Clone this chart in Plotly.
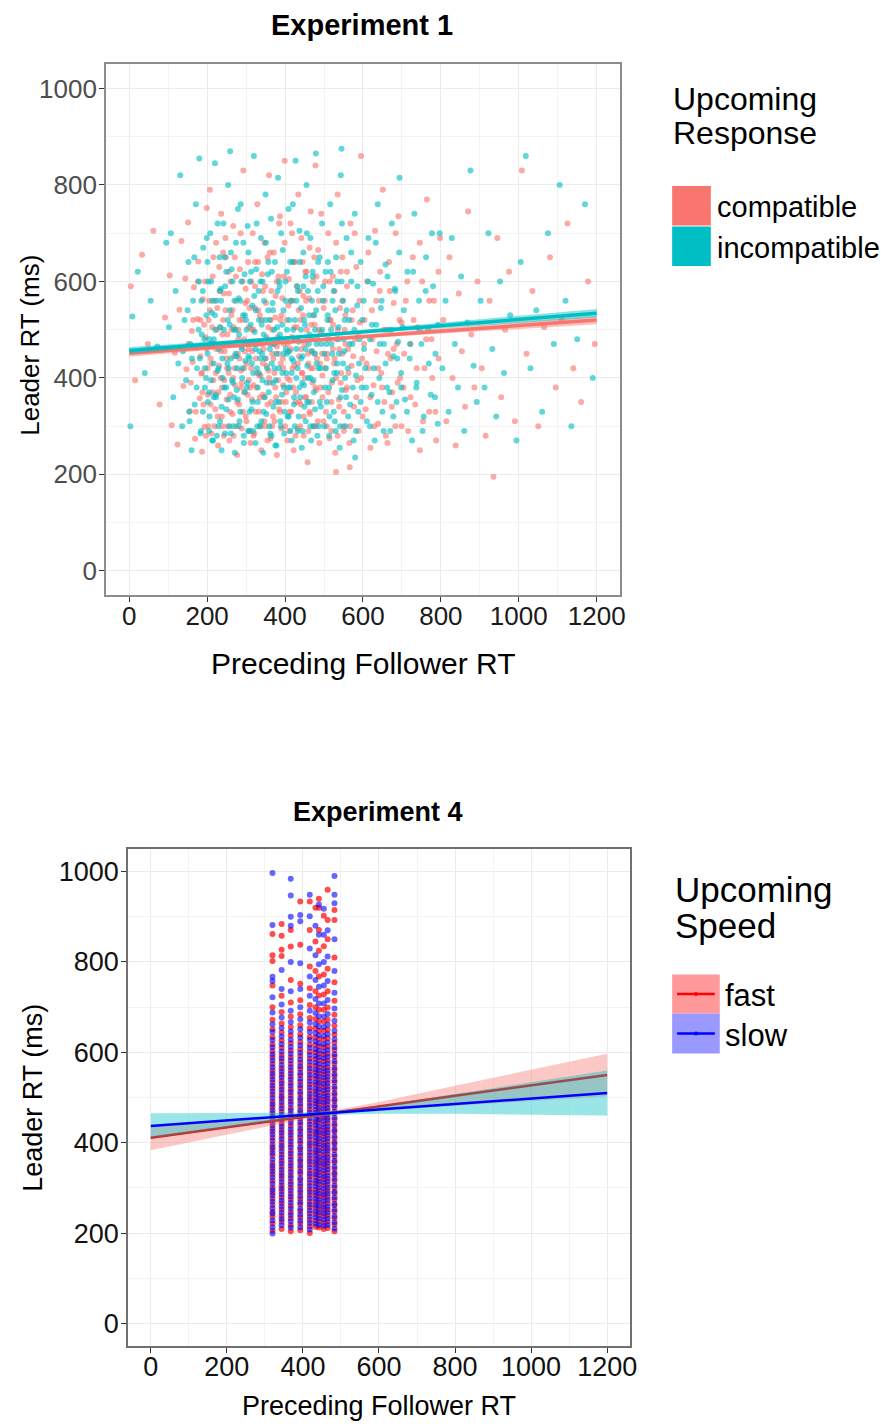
import plotly.graph_objects as go

# ---------------- Experiment 1 data ----------------
comp_pts = [
    (4,590),(15,395),(33,655),(48,470),(62,705),(78,345),(92,525),
    (104,612),(109,302),(117,452),(124,262),(129,541),(134,684),(139,383),(147,418),(151,722),(156,331),(161,497),(166,588),(169,274),(173,462),(177,641),(181,358),(185,409),(189,563),(193,298),(196,484),(199,752),(187,247),(175,522),(163,433),(144,606),
    (202,365),(204,520),(207,790),(209,440),(211,285),(214,610),(216,395),(219,470),(221,335),(223,680),(226,545),(228,260),(231,425),(233,505),(236,740),(238,380),(240,300),(243,575),(245,455),(248,650),(250,355),(252,490),(255,410),(257,270),(260,600),(262,530),(265,325),(267,715),(270,445),(272,385),(275,560),(277,240),(280,480),(282,345),(284,625),(287,415),(289,295),(291,520),(293,830),(295,370),(297,455),(299,585),(268,505),(241,660),(213,505),
    (301,310),(303,470),(305,640),(307,395),(309,545),(311,265),(313,420),(315,355),(317,700),(319,500),(321,285),(323,590),(325,440),(327,380),(329,760),(331,475),(333,330),(335,530),(337,405),(339,250),(341,615),(343,365),(345,460),(347,680),(349,300),(351,555),(353,425),(355,345),(357,505),(359,820),(361,390),(363,275),(365,580),(367,450),(369,320),(371,660),(373,410),(375,525),(377,360),(379,240),(381,485),(383,610),(385,335),(387,735),(389,430),(391,295),(393,565),(395,385),(397,470),(399,850),
    (402,350),(404,520),(406,270),(408,455),(410,605),(412,395),(414,720),(416,330),(418,485),(420,560),(422,250),(424,425),(426,640),(428,370),(430,505),(432,295),(434,780),(436,445),(438,580),(440,345),(442,690),(444,410),(446,530),(448,280),(450,470),(452,620),(454,360),(456,500),(458,225),(460,430),(462,565),(464,325),(466,745),(468,455),(470,390),(472,600),(474,300),(476,510),(478,840),(480,375),(482,440),(485,665),(488,265),(492,495),(496,405),
    (502,560),(505,330),(508,450),(511,700),(514,275),(517,520),(520,390),(523,610),(526,430),(529,245),(532,480),(535,780),(538,355),(541,545),(544,410),(547,650),(550,300),(553,500),(556,375),(559,590),(562,460),(565,265),(568,720),(571,425),(574,540),(577,340),(580,480),(583,630),(586,395),(589,290),(592,515),(595,860),(598,440),(566,215),(531,205),
    (603,470),(607,335),(611,600),(615,420),(619,255),(623,540),(627,385),(631,705),(635,455),(639,305),(643,580),(647,410),(651,790),(655,350),(659,500),(663,265),(667,640),(671,440),(675,370),(679,555),(683,300),(687,470),(691,735),(695,400),(699,515),
    (704,380),(710,560),(716,290),(722,470),(728,650),(734,345),(740,505),(746,250),(752,600),(758,420),(764,770),(770,330),(776,480),(782,560),(788,270),(794,440),(798,690),
    (806,520),(814,310),(822,650),(830,400),(838,260),(846,575),(854,455),(862,340),(870,745),(878,490),(886,380),(894,600),
    (905,420),(915,280),(925,560),(935,195),(945,690),(955,360),(965,500),(975,620),(990,310),
    (1008,830),(1020,450),(1035,580),(1050,300),(1065,505),(1080,650),(1095,380),
    (1110,520),(1125,720),(1140,420),(1160,350),(1178,600),(1195,470),
    # denser core
    (152,470),(158,390),(164,520),(171,330),(176,600),(183,445),(188,370),(192,510),(197,280),(201,420),(205,560),(209,345),(212,470),(216,650),(219,300),(222,410),(225,500),(229,370),(232,580),(235,455),(238,320),(241,520),(244,395),(247,690),(250,440),(253,300),(256,575),(259,365),(262,470),(265,540),(268,280),(271,420),(274,610),(277,350),(280,500),(283,440),(286,700),(289,390),(292,330),(295,480),(298,555),(301,430),(304,365),(307,505),(310,290),(313,600),(316,455),(319,385),(322,545),(325,330),(328,470),(331,640),(334,405),(337,300),(340,520),(343,430),(346,360),(349,590),(352,485),(355,270),(358,415),(361,660),(364,350),(367,500),(370,440),(373,310),(376,570),(379,465),(382,395),(385,720),(388,520),(391,350),(394,440),(397,610),(400,300),(403,480),(406,400),(409,550),(412,330),(415,460),(418,700),(421,380),(424,505),(427,280),(430,590),(433,430),(436,350),(439,520),(442,460),(445,640),(448,320),(451,400),(454,560),(457,480),(460,290),(463,670),(466,420),(469,350),(472,530),(475,450),(478,380),(481,610),(484,310),(487,500),(490,430),(493,740),(496,360),(499,545),(503,420),(507,300),(511,480),(515,600),(519,350),(523,510),(527,440),(531,680),(535,280),(539,460),(543,390),(547,560),(551,330),(555,470),(559,620),(563,410),(567,300),(571,520),(575,445),(579,700),(583,360),(587,490),(591,560),(595,400),(599,320),(604,520),(609,430),(614,660),(619,360),(624,480),(629,300),(634,560),(639,420),(644,620),(649,380),(654,500),(659,280),(664,450),(669,580),(674,340),(679,460),(684,700),(689,390),(694,520),(699,300),(706,450),(714,600),(722,360),(730,520),(738,420),(746,680),(754,310),(762,480),(770,560),(778,400),(786,330),(794,620),
    (183,520),(187,410),(191,345),(195,600),(199,460),(203,300),(207,540),(211,430),(215,370),(219,560),(223,460),(227,320),(231,630),(235,400),(239,490),(243,280),(247,540),(251,420),(255,620),(259,330),(263,500),(267,400),(271,650),(275,300),(279,450),(283,520),(287,380),(291,600),(295,420),(299,320),(303,560),(307,460),(311,380),(315,500),(319,280),(323,640),(327,410),(331,540),(335,360),(339,470),(343,580),(347,310),(351,440),(355,650),(359,400),(363,520),(367,300),(371,470),(375,380),(379,600),(383,450),(387,330),(391,530),(395,420),(399,680),(403,370),(407,470),(411,290),(415,560),(419,420),(423,640),(427,350),(431,480),(435,540),(439,300),(443,410),(447,570),(451,360),(455,620),(459,450),(463,330),(467,510),(471,420),(475,650),(479,300),(483,480),(487,560),(491,380),(495,450),(499,310),(503,600),(507,440),(511,370),(515,520),(519,290),(523,460),(527,580),(531,400),(535,500),(539,340),(543,620),(547,450),(551,290),(555,530),(559,380),
]
incomp_pts = [
    (3,300),(8,527),(22,620),(40,410),(55,560),(72,465),(95,680),
    (102,505),(107,700),(113,360),(119,580),(126,430),(131,820),(136,300),(142,520),(146,395),(152,640),(157,470),(160,250),(164,560),(168,345),(171,760),(174,420),(179,600),(183,285),(186,490),(190,670),(194,380),(198,530),(180,855),(154,330),(138,455),
    (201,450),(203,600),(206,320),(208,700),(210,395),(212,535),(215,270),(217,480),(220,845),(222,365),(224,560),(227,415),(229,300),(232,650),(234,505),(237,250),(239,440),(242,720),(244,380),(246,590),(249,335),(251,470),(254,800),(256,420),(258,540),(261,285),(263,625),(266,390),(269,500),(271,245),(274,680),(276,445),(279,355),(281,565),(283,310),(286,760),(288,465),(290,400),(292,530),(294,265),(296,615),(298,435),(259,870),(235,585),(205,370),
    (300,520),(302,380),(304,715),(306,445),(308,290),(310,600),(312,470),(314,335),(316,550),(318,410),(320,860),(322,495),(324,265),(326,625),(328,420),(330,350),(332,580),(334,455),(336,300),(338,690),(340,510),(342,395),(344,245),(346,560),(348,440),(350,780),(352,325),(354,480),(356,615),(358,370),(360,520),(362,285),(364,730),(366,430),(368,555),(370,340),(372,470),(374,640),(376,395),(378,260),(380,505),(382,815),(384,420),(386,590),(388,310),(390,480),(392,365),(394,665),(396,450),(398,285),
    (401,600),(403,410),(405,500),(407,320),(409,750),(411,455),(413,380),(415,560),(417,270),(419,640),(421,435),(423,345),(425,520),(427,850),(429,400),(431,590),(433,290),(435,475),(437,705),(439,360),(441,545),(443,255),(445,445),(447,660),(449,385),(451,510),(453,310),(455,800),(457,425),(459,580),(461,350),(463,490),(465,690),(467,270),(469,455),(471,610),(473,395),(475,530),(477,335),(479,865),(481,470),(484,580),(487,300),(491,420),(495,720),
    (501,450),(504,620),(507,350),(510,530),(513,280),(516,760),(519,470),(522,395),(525,580),(528,310),(531,650),(534,430),(537,505),(540,255),(543,820),(546,375),(549,560),(552,455),(555,300),(558,690),(561,420),(564,520),(567,345),(570,600),(573,470),(576,270),(579,740),(582,405),(585,550),(588,330),(591,480),(594,640),(597,380),(545,875),(580,235),
    (602,560),(606,420),(610,310),(614,690),(618,480),(622,365),(626,595),(630,270),(634,510),(638,760),(642,400),(646,545),(650,330),(654,470),(658,635),(662,380),(666,500),(670,290),(674,720),(678,445),(682,585),(686,350),(690,475),(694,815),(698,410),
    (702,505),(708,355),(714,620),(720,440),(726,270),(732,740),(738,390),(744,560),(750,470),(756,320),(762,650),(768,500),(774,365),(780,590),(786,450),(792,305),(797,700),
    (804,420),(812,560),(820,330),(828,690),(836,470),(844,380),(852,610),(860,290),(868,515),(876,830),(884,425),(892,350),
    (902,560),(912,380),(922,700),(932,460),(942,320),(952,600),(962,410),(978,530),(994,270),
    (1005,640),(1018,860),(1030,420),(1045,540),(1060,330),(1075,700),(1090,470),
    (1105,800),(1120,560),(1135,300),(1150,480),(1170,760),(1190,400),
    # denser core
    (150,540),(155,310),(161,440),(167,650),(173,380),(178,500),(184,290),(189,580),(194,420),(199,690),(202,350),(206,480),(210,600),(213,270),(217,430),(220,530),(223,360),(227,720),(230,460),(233,310),(236,560),(240,400),(243,500),(246,285),(249,620),(252,430),(255,355),(258,510),(261,660),(264,395),(267,300),(270,560),(273,450),(276,375),(279,750),(282,490),(285,330),(288,600),(291,420),(294,280),(297,530),(300,470),(303,390),(306,660),(309,330),(312,510),(315,430),(318,290),(321,570),(324,460),(327,720),(330,380),(333,520),(336,440),(339,310),(342,600),(345,490),(348,360),(351,680),(354,420),(357,540),(360,300),(363,470),(366,620),(369,390),(372,500),(375,260),(378,450),(381,580),(384,350),(387,490),(390,700),(393,410),(396,540),(399,330),(402,460),(405,620),(408,380),(411,520),(414,290),(417,440),(420,760),(423,360),(426,480),(429,560),(432,420),(435,320),(438,640),(441,500),(444,390),(447,590),(450,340),(453,460),(456,700),(459,400),(462,530),(465,300),(468,480),(471,620),(474,370),(477,450),(480,540),(483,280),(486,420),(489,650),(492,340),(495,500),(498,590),(502,380),(506,470),(510,640),(514,320),(518,500),(522,560),(526,410),(530,290),(534,600),(538,450),(542,360),(546,720),(550,480),(554,400),(558,540),(562,320),(566,470),(570,660),(574,380),(578,500),(582,290),(586,590),(590,430),(594,350),(598,520),(603,460),(608,380),(613,600),(618,300),(623,510),(628,420),(633,680),(638,350),(643,470),(648,560),(653,290),(658,430),(663,610),(668,370),(673,500),(678,320),(683,580),(688,440),(693,660),(698,380),(705,540),(713,330),(721,470),(729,620),(737,380),(745,500),(753,290),(761,580),(769,430),(777,700),(785,360),(793,510),
    (181,440),(185,560),(189,330),(193,480),(197,400),(201,640),(205,290),(209,470),(213,560),(217,360),(221,500),(225,280),(229,420),(233,580),(237,340),(241,470),(245,650),(249,380),(253,520),(257,300),(261,440),(265,600),(269,360),(273,500),(277,420),(281,300),(285,560),(289,460),(293,680),(297,370),(301,500),(305,290),(309,440),(313,620),(317,350),(321,470),(325,540),(329,300),(333,410),(337,600),(341,450),(345,330),(349,520),(353,390),(357,640),(361,460),(365,280),(369,540),(373,420),(377,350),(381,480),(385,600),(389,300),(393,510),(397,380),(401,560),(405,450),(409,320),(413,640),(417,410),(421,500),(425,300),(429,460),(433,580),(437,380),(441,440),(445,290),(449,520),(453,610),(457,350),(461,470),(465,400),(469,560),(473,300),(477,500),(481,430),(485,640),(489,350),(493,470),(497,560),(501,300),(505,420),(509,520),(513,380),(517,620),(521,450),(525,330),(529,540),(533,410),(537,480),(541,300),(545,600),(549,430),(553,520),(557,360),
]
comp_x = [p[0] for p in comp_pts]
comp_y = [p[1] for p in comp_pts]
incomp_x = [p[0] for p in incomp_pts]
incomp_y = [p[1] for p in incomp_pts]

fit1_x = [0, 300, 600, 900, 1200]
comp_fit = [451, 468, 486, 503, 520]
comp_lo = [444, 464, 482, 497, 511]
comp_hi = [458, 472, 490, 509, 529]
incomp_fit = [457, 476, 496, 515, 534]
incomp_lo = [450, 472, 492, 509, 525]
incomp_hi = [464, 480, 500, 521, 543]

# ---------------- Experiment 4 data ----------------
strip_x = [320, 344, 368, 393, 418, 433, 442, 455, 465, 483]
fast_strips = [
    [205,221,236,247,262,276,289,301,316,330,343,355,371,384,396,411,425,438,450,465,479,491,506,520,533,547,560,574,589,603,618,634,651,672,700,748,802,815,862],
    [209,225,238,252,266,279,293,306,320,333,347,360,374,388,401,415,428,442,456,469,483,497,510,524,537,551,565,580,594,610,626,644,664,689,725,813,827,858,884],
    [204,218,233,246,260,274,287,301,314,328,342,355,369,382,396,410,423,437,450,464,477,491,505,518,532,546,560,574,589,604,620,637,656,679,710,760,834,871],
    [206,221,235,249,263,276,290,303,317,331,344,358,371,385,399,412,426,439,453,467,480,494,507,521,535,549,563,577,592,607,623,640,660,684,715,752,838,934],
    [200,215,229,243,257,270,284,297,311,325,338,352,365,379,393,406,420,433,447,461,474,488,501,515,529,543,557,571,586,601,617,634,653,676,705,742,790,871,934],
    [214,228,242,256,269,283,296,310,324,337,351,364,378,392,405,419,432,446,460,473,487,500,514,528,542,556,570,585,600,616,633,652,674,700,735,780,845,920],
    [212,226,240,253,267,281,294,308,321,335,349,362,376,389,403,417,430,444,457,471,485,498,512,526,539,553,567,582,597,613,630,648,669,694,726,768,825,871,920,940],
    [209,223,237,251,264,278,291,305,319,332,346,359,373,387,400,414,427,441,455,468,482,495,509,523,537,551,565,580,595,611,628,647,668,694,728,772,835,902],
    [211,225,239,252,266,280,293,307,320,334,348,361,375,388,402,416,429,443,456,470,484,497,511,525,539,553,567,582,597,613,631,650,672,699,735,785,850,893,960],
    [204,219,233,247,261,274,288,301,315,329,342,356,369,383,397,410,424,437,451,465,478,492,505,519,533,547,561,575,590,605,621,639,659,683,714,755,810,893,915],
]
slow_strips = [
    [199,213,228,243,255,269,283,295,309,323,336,349,363,377,390,404,418,431,444,458,472,485,499,513,526,540,553,567,582,596,611,627,645,662,688,722,758,767,882,997],
    [217,231,245,259,272,286,299,313,327,340,354,367,381,394,408,422,435,449,462,476,490,503,517,531,545,558,572,587,602,618,635,654,677,706,740,782],
    [212,226,240,254,267,281,294,308,322,335,349,362,376,390,403,417,430,444,458,471,485,498,512,526,540,553,567,582,597,612,628,646,667,692,735,800,880,900,947,984],
    [213,227,241,254,268,282,295,309,322,336,350,363,377,390,404,418,431,445,458,472,486,499,513,527,541,555,569,584,599,615,632,651,673,700,740,797,890,904],
    [208,222,236,250,263,277,291,304,318,331,345,359,372,386,399,413,427,440,454,467,481,495,508,522,536,550,564,579,594,610,627,645,666,692,725,768,830,901,949],
    [221,235,248,262,276,289,303,316,330,344,357,371,384,398,412,425,439,452,466,480,493,507,520,534,548,562,577,592,607,624,642,662,687,718,760,815,880],
    [218,232,246,260,273,287,300,314,328,341,355,368,382,396,409,423,436,450,464,477,491,504,518,532,546,560,574,589,604,620,638,657,680,708,745,795,860,927],
    [216,230,244,257,271,285,298,312,325,339,353,366,380,393,407,421,434,448,461,475,489,502,516,530,544,558,572,587,602,618,636,656,679,708,748,800,860,918],
    [218,232,246,259,273,287,300,314,327,341,355,368,382,395,409,423,436,450,463,477,491,504,518,532,546,560,575,590,605,622,640,661,685,716,758,812,870],
    [210,224,238,252,265,279,292,306,320,333,347,360,374,388,401,415,428,442,456,469,483,496,510,524,538,552,566,581,596,612,629,648,670,697,732,780,850,930,949,990],
]
fast_x = [sx for sx, ys in zip(strip_x, fast_strips) for _ in ys]
fast_y = [y for ys in fast_strips for y in ys]
slow_x = [sx for sx, ys in zip(strip_x, slow_strips) for _ in ys]
slow_y = [y for ys in slow_strips for y in ys]

fit4_x = [0, 150, 300, 400, 450, 500, 600, 800, 1000, 1200]
fast_fit = [411, 428, 446, 457, 463, 469, 480, 504, 527, 550]
fast_lo = [383, 409, 436, 452, 459, 464, 470, 482, 492, 503]
fast_hi = [439, 447, 456, 462, 467, 474, 490, 526, 562, 597]
slow_fit = [437, 446, 455, 461, 464, 467, 473, 486, 498, 510]
slow_lo = [409, 427, 444, 455, 459, 462, 464, 464, 462, 460]
slow_hi = [465, 465, 466, 467, 469, 472, 482, 508, 534, 560]

tick_vals = [0, 200, 400, 600, 800, 1000, 1200]
ytick_vals = [0, 200, 400, 600, 800, 1000]

# ---------------- figure ----------------
W, H = 885, 1427
FONT = "Liberation Sans, Arial, sans-serif"
def px(x):
    return x / W
def py(y):
    return 1 - y / H

COMP = "#F8766D"
INCOMP = "#00BFC4"

fig = go.Figure()

fig.add_trace(go.Scatter(x=comp_x, y=comp_y, mode="markers", xaxis="x", yaxis="y",
                         marker=dict(color=COMP, size=6, opacity=0.62, line=dict(width=0)),
                         showlegend=False, hoverinfo="skip"))
fig.add_trace(go.Scatter(x=incomp_x, y=incomp_y, mode="markers", xaxis="x", yaxis="y",
                         marker=dict(color=INCOMP, size=6, opacity=0.62, line=dict(width=0)),
                         showlegend=False, hoverinfo="skip"))
for fx, lo, hi, fit, col, rgba in [
    (fit1_x, comp_lo, comp_hi, comp_fit, COMP, "rgba(248,118,109,0.45)"),
    (fit1_x, incomp_lo, incomp_hi, incomp_fit, INCOMP, "rgba(0,191,196,0.45)"),
]:
    fig.add_trace(go.Scatter(x=fx + fx[::-1], y=lo + hi[::-1], fill="toself", fillcolor=rgba,
                             line=dict(width=0), mode="lines", xaxis="x", yaxis="y",
                             showlegend=False, hoverinfo="skip"))
    fig.add_trace(go.Scatter(x=fx, y=fit, mode="lines", line=dict(color=col, width=3.5),
                             xaxis="x", yaxis="y", showlegend=False, hoverinfo="skip"))

fig.add_trace(go.Scatter(x=fast_x, y=fast_y, mode="markers", xaxis="x2", yaxis="y2",
                         marker=dict(color="rgba(255,0,0,0.7)", size=6, line=dict(width=0)),
                         showlegend=False, hoverinfo="skip"))
fig.add_trace(go.Scatter(x=slow_x, y=slow_y, mode="markers", xaxis="x2", yaxis="y2",
                         marker=dict(color="rgba(0,0,255,0.6)", size=6, line=dict(width=0)),
                         showlegend=False, hoverinfo="skip"))
for fx, lo, hi, fit, col, rgba in [
    (fit4_x, fast_lo, fast_hi, fast_fit, "#FF0000", "rgba(248,118,109,0.4)"),
    (fit4_x, slow_lo, slow_hi, slow_fit, "#0000FF", "rgba(0,191,196,0.4)"),
]:
    fig.add_trace(go.Scatter(x=fx + fx[::-1], y=lo + hi[::-1], fill="toself", fillcolor=rgba,
                             line=dict(width=0), mode="lines", xaxis="x2", yaxis="y2",
                             showlegend=False, hoverinfo="skip"))
    fig.add_trace(go.Scatter(x=fx, y=fit, mode="lines", line=dict(color=col, width=2.5),
                             xaxis="x2", yaxis="y2", showlegend=False, hoverinfo="skip"))

def xax(domain, anchor, linecol, tickcol, fs, standoff):
    return dict(domain=domain, anchor=anchor, range=[-60, 1260], tickvals=tick_vals,
                showgrid=True, gridcolor="#EBEBEB", gridwidth=1.1, zeroline=False,
                minor=dict(tickvals=[100, 300, 500, 700, 900, 1100], showgrid=True,
                           gridcolor="#F3F3F3", gridwidth=0.7, ticks=""),
                showline=True, mirror=True, linecolor=linecol, linewidth=1.5,
                ticks="outside", ticklen=5, tickcolor="#333", tickwidth=1,
                ticklabelstandoff=standoff,
                tickfont=dict(family=FONT, size=fs, color=tickcol))

def yax(domain, anchor, linecol, tickcol, fs, standoff):
    return dict(domain=domain, anchor=anchor, range=[-50, 1050], tickvals=ytick_vals,
                showgrid=True, gridcolor="#EBEBEB", gridwidth=1.1, zeroline=False,
                minor=dict(tickvals=[100, 300, 500, 700, 900], showgrid=True,
                           gridcolor="#F3F3F3", gridwidth=0.7, ticks=""),
                showline=True, mirror=True, linecolor=linecol, linewidth=1.5,
                ticks="outside", ticklen=5, tickcolor="#333", tickwidth=1,
                ticklabelstandoff=standoff,
                tickfont=dict(family=FONT, size=fs, color=tickcol))

anns = []
def txt(s, x, y, size, bold=False, anchor="center", angle=0, color="#000"):
    anns.append(dict(text=("<b>%s</b>" % s) if bold else s, x=px(x), y=py(y), xref="paper", yref="paper",
                     xanchor=anchor, yanchor="middle", showarrow=False, textangle=angle,
                     font=dict(family=FONT, size=size, color=color)))

txt("Experiment 1", 365, 25, 29, bold=True)
txt("Leader RT (ms)", 30, 345, 26, angle=-90)
txt("Preceding Follower RT", 366, 663, 30)
txt("Upcoming", 676, 99, 32, anchor="left")
txt("Response", 676, 133, 32, anchor="left")
txt("compatible", 721, 207, 29, anchor="left")
txt("incompatible", 721, 248, 29, anchor="left")

txt("Experiment 4", 381, 812, 27, bold=True)
txt("Leader RT (ms)", 33, 1098, 27, angle=-90)
txt("Preceding Follower RT", 382, 1406, 27)
txt("Upcoming", 678, 889, 35, anchor="left")
txt("Speed", 678, 925, 35, anchor="left")
txt("fast", 729, 995, 31, anchor="left")
txt("slow", 729, 1035, 31, anchor="left")

shapes = []
def rect(x0, y0, x1, y1, fill):
    shapes.append(dict(type="rect", xref="paper", yref="paper", x0=px(x0), x1=px(x1),
                       y0=py(y1), y1=py(y0), fillcolor=fill, line=dict(width=0), layer="above"))
def hline(x0, x1, y, col):
    shapes.append(dict(type="line", xref="paper", yref="paper", x0=px(x0), x1=px(x1),
                       y0=py(y), y1=py(y), line=dict(color=col, width=2.5), layer="above"))
def dot(cx, cy, r, col):
    shapes.append(dict(type="circle", xref="paper", yref="paper", x0=px(cx - r), x1=px(cx + r),
                       y0=py(cy + r), y1=py(cy - r), fillcolor=col, line=dict(width=0), layer="above"))

rect(677.5, 186, 716.5, 225.5, COMP)
rect(677.5, 226.5, 716.5, 266, INCOMP)
rect(677.5, 974.5, 725.5, 1013.5, "#FF9999")
rect(677.5, 1013.5, 725.5, 1053.5, "#9999FF")
hline(682.5, 720.5, 994, "#FF0000")
hline(682.5, 720.5, 1033.5, "#0000FF")
dot(701.5, 994, 2, "#FF0000")
dot(701.5, 1033.5, 2, "#0000FF")

fig.update_layout(
    width=W, height=H, margin=dict(l=0, r=0, t=0, b=0),
    paper_bgcolor="white", plot_bgcolor="white", showlegend=False,
    font=dict(family=FONT),
    xaxis=xax([106.7 / W, 625 / W], "y", "#8C8C8C", "#1A1A1A", 26, -8),
    yaxis=yax([1 - 595 / H, 1 - 64.3 / H], "x", "#8C8C8C", "#4D4D4D", 26, -3),
    xaxis2=xax([129 / W, 635 / W], "y2", "#707070", "#111111", 27, -9),
    yaxis2=yax([1 - 1346 / H, 1 - 849 / H], "x2", "#707070", "#111111", 27, -3),
    annotations=anns, shapes=shapes,
)

fig.write_html("out.html", config={"displayModeBar": False},
               post_script="document.body.style.margin='0';document.body.style.overflow='hidden';")
